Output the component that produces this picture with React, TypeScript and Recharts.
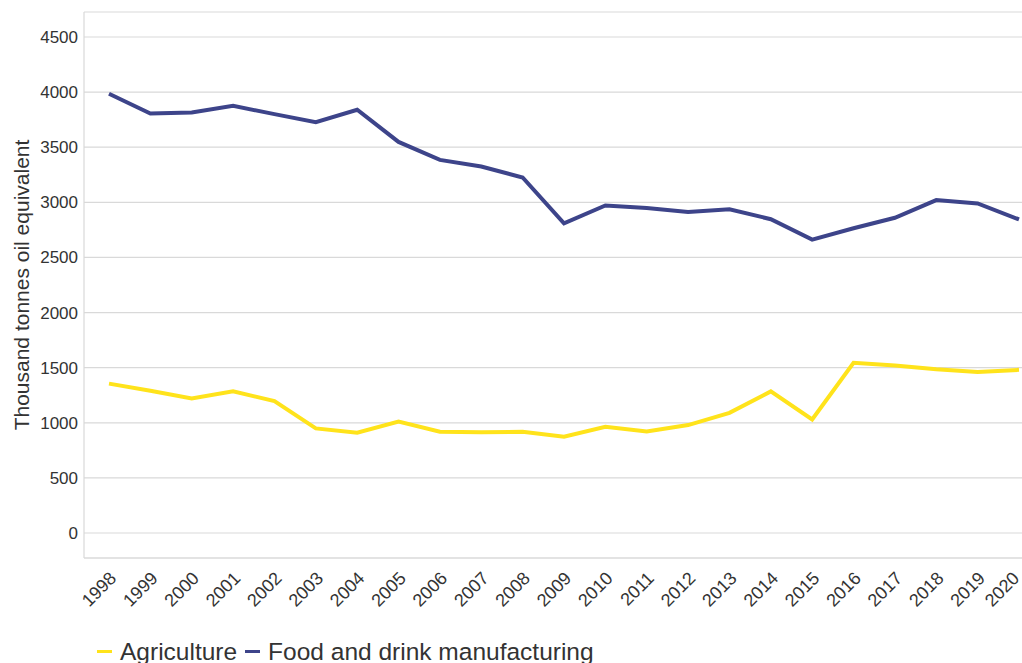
import { LineChart, Line, XAxis, YAxis, CartesianGrid, Label } from 'recharts'

const YEARS = [
  '1998', '1999', '2000', '2001', '2002', '2003', '2004', '2005', '2006', '2007', '2008',
  '2009', '2010', '2011', '2012', '2013', '2014', '2015', '2016', '2017', '2018', '2019', '2020',
]

const AGRICULTURE = [
  1355, 1290, 1220, 1286, 1196, 949, 910, 1010, 919, 913, 919,
  873, 964, 922, 979, 1090, 1285, 1030, 1545, 1520, 1485, 1460, 1480,
]

const FOOD_DRINK = [
  3985, 3805, 3815, 3875, 3800, 3728, 3840, 3548, 3385, 3325, 3225,
  2810, 2972, 2948, 2912, 2937, 2847, 2662, 2765, 2860, 3020, 2990, 2845,
]

const Y_TICKS = [0, 500, 1000, 1500, 2000, 2500, 3000, 3500, 4000, 4500]

const SERIES = [
  { key: 'agriculture', name: 'Agriculture', color: '#FFE31B' },
  { key: 'food', name: 'Food and drink manufacturing', color: '#3D448A' },
]

const FONT = '"Liberation Sans", Arial, Helvetica, sans-serif'
const TEXT = '#333333'
const GRID = '#d9d9d9'

const data = YEARS.map((year, i) => ({
  year,
  agriculture: AGRICULTURE[i],
  food: FOOD_DRINK[i],
}))

function YearTick({ x, y, payload }: any) {
  // keep the last label inside the frame
  const ax = Math.min(x + 4, 1016)
  const ay = y + 9
  return (
    <text
      x={ax}
      y={ay}
      transform={`rotate(-45, ${ax}, ${ay})`}
      textAnchor="end"
      dy="0.35em"
      fontSize={18}
      fill={TEXT}
      fontFamily={FONT}
    >
      {payload.value}
    </text>
  )
}

export default function App() {
  return (
    <div style={{ position: 'absolute', left: 0, top: 0, width: 1022, height: 663, background: '#fff', overflow: 'hidden', fontFamily: FONT }}>
      <LineChart width={1022} height={663} data={data} margin={{ top: 12, right: 0, bottom: 0, left: 0 }}>
        <CartesianGrid vertical={false} stroke={GRID} strokeWidth={1.2} />
        <XAxis
          dataKey="year"
          interval={0}
          height={105}
          padding={{ left: 25, right: 3 }}
          stroke={GRID}
          strokeWidth={1.2}
          tickLine={false}
          tick={<YearTick />}
        />
        <YAxis
          width={84}
          domain={[0, 4500]}
          ticks={Y_TICKS}
          padding={{ top: 25, bottom: 25 }}
          stroke={GRID}
          strokeWidth={1.2}
          tickLine={false}
          tickSize={0}
          tickMargin={6}
          tick={{ fontSize: 17, fill: TEXT, fontFamily: FONT }}
        >
          <Label
            content={({ viewBox }: any) => {
              const cx = 22
              const cy = viewBox.y + viewBox.height / 2
              return (
                <text
                  x={cx}
                  y={cy}
                  transform={`rotate(-90, ${cx}, ${cy})`}
                  textAnchor="middle"
                  dy="0.35em"
                  fontSize={21}
                  fill={TEXT}
                  fontFamily={FONT}
                >
                  Thousand tonnes oil equivalent
                </text>
              )
            }}
          />
        </YAxis>
        {SERIES.map((s) => (
          <Line
            key={s.key}
            type="linear"
            dataKey={s.key}
            name={s.name}
            stroke={s.color}
            strokeWidth={4}
            dot={false}
            activeDot={false}
            isAnimationActive={false}
          />
        ))}
      </LineChart>

      {/* legend sits under the axis, bottom clipped like the original */}
      <div style={{ position: 'absolute', left: 97, top: 638, display: 'flex', alignItems: 'center', fontSize: 24.5, color: TEXT, lineHeight: '27px', whiteSpace: 'nowrap' }}>
        {SERIES.map((s) => (
          <div key={s.key} style={{ display: 'flex', alignItems: 'center', marginRight: 8 }}>
            <span style={{ display: 'inline-block', width: 15, height: 3, background: s.color, marginRight: 8 }} />
            <span>{s.name}</span>
          </div>
        ))}
      </div>
    </div>
  )
}
